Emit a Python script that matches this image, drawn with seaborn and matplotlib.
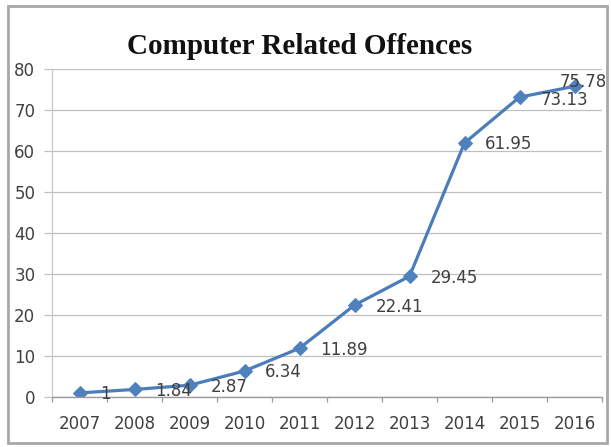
import matplotlib
matplotlib.use("Agg")
import matplotlib.pyplot as plt
from matplotlib.patches import Rectangle
import seaborn as sns
import pandas as pd

years = [2007, 2008, 2009, 2010, 2011, 2012, 2013, 2014, 2015, 2016]
offences = [1, 1.84, 2.87, 6.34, 11.89, 22.41, 29.45, 61.95, 73.13, 75.78]
value_labels = ["1", "1.84", "2.87", "6.34", "11.89", "22.41", "29.45", "61.95", "73.13", "75.78"]
y_ticks = [0, 10, 20, 30, 40, 50, 60, 70, 80]
title = "Computer Related Offences"

# nudge of each data label, in points from its marker
label_dx = [15, 15, 15, 15, 15, 15, 15, 15, 15, -11]
label_dy = [-1, -1, -1, -1, -1, -1, -1, -1, -2, 3]

df = pd.DataFrame({"year": years, "value": offences})

sns.set_theme(style="white")
plt.rcParams["font.family"] = ["DejaVu Sans"]

fig = plt.figure(figsize=(6.11, 4.47), dpi=100)
ax = fig.add_axes([52 / 611, 1 - 397 / 447, 550 / 611, 328 / 447])

line_color = "#4A7EBB"
sns.lineplot(data=df, x="year", y="value", ax=ax, color=line_color,
             linewidth=2.3, marker="D", markersize=7.5,
             markerfacecolor="#4F81BD", markeredgecolor="#4F81BD")

ax.set_xlim(2006.5, 2016.5)
ax.set_ylim(0, 80)
ax.set_yticks(y_ticks)
ax.set_yticklabels([str(v) for v in y_ticks])
ax.set_xticks(years)
ax.set_xticklabels([str(y) for y in years])
ax.set_xticks([y + 0.5 for y in years[:-1]] + [2006.5, 2016.5], minor=True)
ax.set_xlabel("")
ax.set_ylabel("")

ax.grid(axis="y", color="#c0c0c0", linewidth=0.9)
ax.set_axisbelow(True)
for side in ["top", "right"]:
    ax.spines[side].set_visible(False)
ax.spines["left"].set_color("#c8c8c8")
ax.spines["left"].set_linewidth(0.9)
ax.spines["bottom"].set_color("#9a9a9a")
ax.spines["bottom"].set_linewidth(1.0)

ax.tick_params(axis="x", which="major", length=0, pad=13, labelsize=12,
               labelcolor="#404040")
ax.tick_params(axis="x", which="minor", bottom=True, length=3.5, width=0.9,
               color="#9a9a9a")
ax.tick_params(axis="y", left=True, length=6, width=0.9, color="#c0c0c0",
               pad=6, labelsize=12, labelcolor="#404040")

for x, y, txt, dx, dy in zip(years, offences, value_labels, label_dx, label_dy):
    ax.annotate(txt, (x, y), xytext=(dx, dy), textcoords="offset points",
                ha="left", va="center", fontsize=12, color="#404040")

fig.text(300 / 611, 1 - 46 / 447, title, ha="center", va="center",
         fontsize=21, fontweight="bold", family="Liberation Serif",
         color="#111111")

# chart-area frame
fig.patches.append(Rectangle((8 / 611, 4 / 447), 599 / 611, 437 / 447,
                             transform=fig.transFigure, fill=False,
                             edgecolor="#a8a8a8", linewidth=2.0))

fig.savefig("out.png", dpi=100)
